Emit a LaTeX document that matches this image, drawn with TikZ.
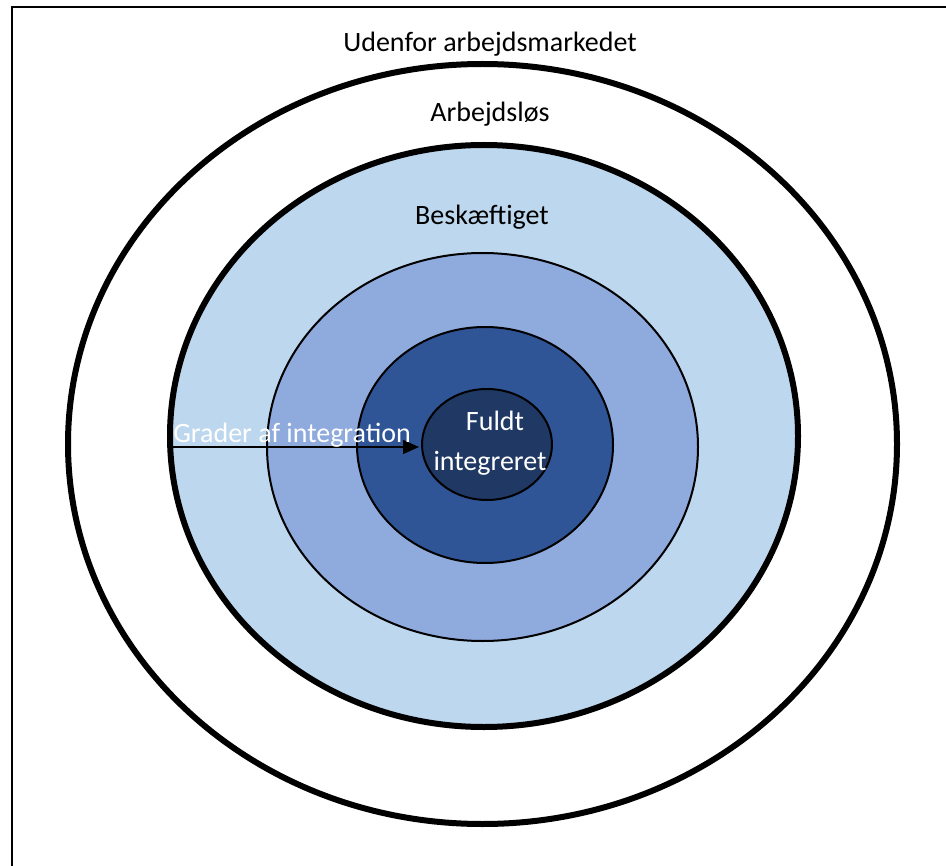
\documentclass[tikz,border=0pt]{standalone}
\usepackage{fontspec}
\setmainfont{Carlito}
\usetikzlibrary{shapes.geometric,arrows.meta}
\definecolor{ring1}{HTML}{BDD7EE}
\definecolor{ring2}{HTML}{8FAADC}
\definecolor{ring3}{HTML}{2F5597}
\definecolor{ring4}{HTML}{203864}
\begin{document}
\begin{tikzpicture}[x=0.75pt,y=-0.75pt,
  ring/.style={ellipse,inner sep=0pt,outer sep=0pt,draw=black},
  thick ring/.style={ring,line width=4.5pt},
  thin ring/.style={ring,line width=1.5pt},
  lbl/.style={inner sep=0pt,anchor=base,font=\fontsize{21}{25}\selectfont},
  wlbl/.style={lbl,text=white}]
\useasboundingbox (0,0) rectangle (946,866);
\fill[white] (0,0) rectangle (946,866);
\coordinate (fb) at (12,880);
\coordinate (fl) at (12,7);
\coordinate (fr) at (960,7);
\draw[line width=2.2pt] (fb) -- (fl) -- (fr);
\node[thick ring,fill=white,minimum width=621.75pt,minimum height=570pt] (outer) at (482.5,444) {};
\node[thick ring,fill=ring1,minimum width=471pt,minimum height=436.5pt] (besk) at (484,436) {};
\node[thin ring,fill=ring2,minimum width=323.25pt,minimum height=291pt] (mid) at (482.5,447) {};
\node[thin ring,fill=ring3,minimum width=192pt,minimum height=177pt] (dark) at (485,445) {};
\node[thin ring,fill=ring4,minimum width=97.5pt,minimum height=83.25pt] (inner) at (487,444.5) {};
\node[lbl] (t1) at (490,52) {Udenfor arbejdsmarkedet};
\node[lbl] (t2) at (490,122) {Arbejdsløs};
\node[lbl] (t3) at (482,225) {Beskæftiget};
\node[wlbl] (t5) at (495,430) {Fuldt};
\node[wlbl] (t6) at (490,470) {integreret};
\coordinate (aend) at (419,447);
\draw[line width=1.1pt,-{Triangle[length=12pt,width=10.5pt]}] (besk.west |- aend) -- (aend);
\node[wlbl,anchor=base west] (t4) at (173,442) {Grader af integration};
\end{tikzpicture}
\end{document}
